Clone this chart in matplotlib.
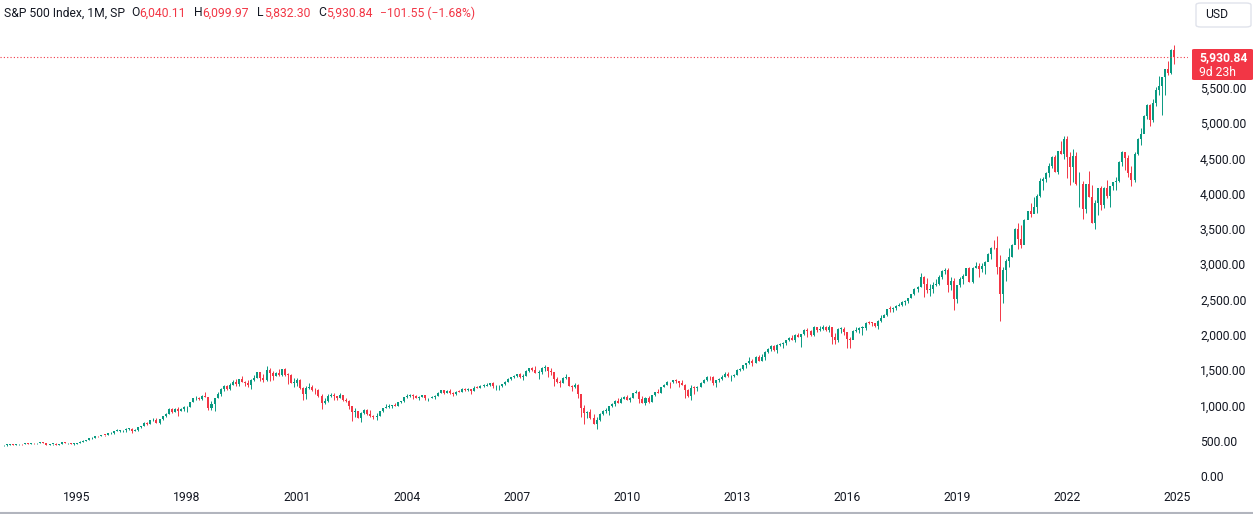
import matplotlib
matplotlib.use("Agg")
import matplotlib.pyplot as plt
from matplotlib.patches import FancyBboxPatch
from matplotlib.ticker import FuncFormatter
import numpy as np

# S&P 500 monthly candles, Jan 1993 .. Dec 2024 (one row per year)
start_year = 1993
first_open = 435.71
last_open = 6040.11

closes = [
    438.78, 443.38, 451.67, 440.19, 450.19, 450.53, 448.13, 463.56, 458.93, 467.83, 461.79, 466.45,  # 1993
    481.61, 467.14, 445.77, 450.91, 456.50, 444.27, 458.26, 475.49, 462.69, 472.35, 453.69, 459.27,  # 1994
    470.42, 487.39, 500.71, 514.71, 533.40, 544.75, 562.06, 561.88, 584.41, 581.50, 605.37, 615.93,  # 1995
    636.02, 640.43, 645.50, 654.17, 669.12, 670.63, 639.95, 651.99, 687.31, 705.27, 757.02, 740.74,  # 1996
    786.16, 790.82, 757.12, 801.34, 848.28, 885.14, 954.31, 899.47, 947.28, 914.62, 955.40, 970.43,  # 1997
    980.28, 1049.34, 1101.75, 1111.75, 1090.82, 1133.84, 1120.67, 957.28, 1017.01, 1098.67, 1163.63, 1229.23,  # 1998
    1279.64, 1238.33, 1286.37, 1335.18, 1301.84, 1372.71, 1328.72, 1320.41, 1282.71, 1362.93, 1388.91, 1469.25,  # 1999
    1394.46, 1366.42, 1498.58, 1452.43, 1420.60, 1454.60, 1430.83, 1517.68, 1436.51, 1429.40, 1314.95, 1320.28,  # 2000
    1366.01, 1239.94, 1160.33, 1249.46, 1255.82, 1224.42, 1211.23, 1133.58, 1040.94, 1059.78, 1139.45, 1148.08,  # 2001
    1130.20, 1106.73, 1147.39, 1076.92, 1067.14, 989.82, 911.62, 916.07, 815.28, 885.76, 936.31, 879.82,  # 2002
    855.70, 841.15, 848.18, 916.92, 963.59, 974.50, 990.31, 1008.01, 995.97, 1050.71, 1058.20, 1111.92,  # 2003
    1131.13, 1144.94, 1126.21, 1107.30, 1120.68, 1140.84, 1101.72, 1104.24, 1114.58, 1130.20, 1173.82, 1211.92,  # 2004
    1181.27, 1203.60, 1180.59, 1156.85, 1191.50, 1191.33, 1234.18, 1220.33, 1228.81, 1207.01, 1249.48, 1248.29,  # 2005
    1280.08, 1280.66, 1294.83, 1310.61, 1270.09, 1270.20, 1276.66, 1303.82, 1335.85, 1377.94, 1400.63, 1418.30,  # 2006
    1438.24, 1406.82, 1420.86, 1482.37, 1530.62, 1503.35, 1455.27, 1473.99, 1526.75, 1549.38, 1481.14, 1468.36,  # 2007
    1378.55, 1330.63, 1322.70, 1385.59, 1400.38, 1280.00, 1267.38, 1282.83, 1166.36, 968.75, 896.24, 903.25,  # 2008
    825.88, 735.09, 797.87, 872.81, 919.14, 919.32, 987.48, 1020.62, 1057.08, 1036.19, 1095.63, 1115.10,  # 2009
    1073.87, 1104.49, 1169.43, 1186.69, 1089.41, 1030.71, 1101.60, 1049.33, 1141.20, 1183.26, 1180.55, 1257.64,  # 2010
    1286.12, 1327.22, 1325.83, 1363.61, 1345.20, 1320.64, 1292.28, 1218.89, 1131.42, 1253.30, 1246.96, 1257.60,  # 2011
    1312.41, 1365.68, 1408.47, 1397.91, 1310.33, 1362.16, 1379.32, 1406.58, 1440.67, 1412.16, 1416.18, 1426.19,  # 2012
    1498.11, 1514.68, 1569.19, 1597.57, 1630.74, 1606.28, 1685.73, 1632.97, 1681.55, 1756.54, 1805.81, 1848.36,  # 2013
    1782.59, 1859.45, 1872.34, 1883.95, 1923.57, 1960.23, 1930.67, 2003.37, 1972.29, 2018.05, 2067.56, 2058.90,  # 2014
    1994.99, 2104.50, 2067.89, 2085.51, 2107.39, 2063.11, 2103.84, 1972.18, 1920.03, 2079.36, 2080.41, 2043.94,  # 2015
    1940.24, 1932.23, 2059.74, 2065.30, 2096.95, 2098.86, 2173.60, 2170.95, 2168.27, 2126.15, 2198.81, 2238.83,  # 2016
    2278.87, 2363.64, 2362.72, 2384.20, 2411.80, 2423.41, 2470.30, 2471.65, 2519.36, 2575.26, 2647.58, 2673.61,  # 2017
    2823.81, 2713.83, 2640.87, 2648.05, 2705.27, 2718.37, 2816.29, 2901.52, 2913.98, 2711.74, 2760.17, 2506.85,  # 2018
    2704.10, 2784.49, 2834.40, 2945.83, 2752.06, 2941.76, 2980.38, 2926.46, 2976.74, 3037.56, 3140.98, 3230.78,  # 2019
    3225.52, 2954.22, 2584.59, 2912.43, 3044.31, 3100.29, 3271.12, 3500.31, 3363.00, 3269.96, 3621.63, 3756.07,  # 2020
    3714.24, 3811.15, 3972.89, 4181.17, 4204.11, 4297.50, 4395.26, 4522.68, 4307.54, 4605.38, 4567.00, 4766.18,  # 2021
    4515.55, 4373.94, 4530.41, 4131.93, 4132.15, 3785.38, 4130.29, 3955.00, 3585.62, 3871.98, 4080.11, 3839.50,  # 2022
    4076.60, 3970.15, 4109.31, 4169.48, 4179.83, 4450.38, 4588.96, 4507.66, 4288.05, 4193.80, 4567.80, 4769.83,  # 2023
    4845.65, 5096.27, 5254.35, 5035.69, 5277.51, 5460.48, 5522.30, 5648.40, 5762.48, 5705.45, 6032.38, 5930.84,  # 2024
]

highs = [
    442.52, 450.06, 456.88, 448.64, 453.52, 453.85, 451.15, 464.34, 463.79, 470.36, 469.58, 471.29,  # 1993
    482.85, 482.23, 471.09, 452.79, 458.61, 462.12, 459.30, 476.07, 476.63, 473.77, 473.52, 463.35,  # 1994
    472.79, 489.19, 507.01, 515.22, 534.82, 552.07, 563.84, 565.25, 586.20, 587.41, 608.55, 622.88,  # 1995
    636.18, 664.23, 656.97, 656.67, 678.51, 673.31, 673.25, 670.68, 690.88, 708.10, 762.33, 761.75,  # 1996
    794.67, 817.68, 814.90, 804.13, 851.87, 898.70, 957.73, 961.63, 960.46, 983.12, 963.07, 986.25,  # 1997
    992.65, 1050.02, 1105.65, 1130.52, 1123.01, 1141.32, 1190.58, 1121.04, 1066.11, 1102.57, 1193.19, 1244.93,  # 1998
    1283.09, 1283.60, 1316.55, 1362.80, 1375.98, 1372.93, 1420.33, 1344.85, 1361.41, 1373.17, 1427.66, 1473.10,  # 1999
    1478.00, 1444.55, 1552.87, 1527.19, 1481.51, 1474.64, 1517.32, 1520.77, 1530.09, 1454.82, 1438.46, 1389.06,  # 2000
    1383.37, 1376.38, 1267.42, 1269.30, 1315.93, 1286.62, 1239.78, 1226.27, 1155.40, 1110.61, 1163.38, 1173.62,  # 2001
    1176.55, 1130.20, 1173.94, 1147.84, 1106.59, 1070.66, 994.46, 965.00, 924.02, 900.96, 951.57, 954.28,  # 2002
    935.05, 864.64, 895.90, 924.24, 965.38, 1015.33, 1015.41, 1011.01, 1040.29, 1053.79, 1063.65, 1112.56,  # 2003
    1155.38, 1158.98, 1163.23, 1150.57, 1127.74, 1146.34, 1140.84, 1109.68, 1131.54, 1142.05, 1188.46, 1217.33,  # 2004
    1217.80, 1212.44, 1229.11, 1191.88, 1199.56, 1219.59, 1245.15, 1245.86, 1243.13, 1233.34, 1270.64, 1275.80,  # 2005
    1294.90, 1297.57, 1310.88, 1318.16, 1326.70, 1290.68, 1283.42, 1306.74, 1340.28, 1389.45, 1407.89, 1431.81,  # 2006
    1441.61, 1461.57, 1438.89, 1498.02, 1535.56, 1540.56, 1555.90, 1503.89, 1538.74, 1576.09, 1545.79, 1523.57,  # 2007
    1471.77, 1396.02, 1359.68, 1404.57, 1440.24, 1404.05, 1292.17, 1313.15, 1303.04, 1167.03, 1007.51, 918.85,  # 2008
    943.85, 875.01, 832.98, 888.70, 930.17, 956.23, 996.68, 1039.47, 1080.15, 1101.36, 1113.69, 1130.38,  # 2009
    1150.45, 1112.42, 1180.16, 1219.80, 1205.13, 1131.23, 1120.95, 1129.24, 1148.90, 1196.14, 1227.08, 1262.60,  # 2010
    1302.67, 1344.07, 1332.28, 1366.60, 1370.58, 1345.20, 1356.48, 1307.38, 1230.71, 1292.66, 1277.55, 1269.37,  # 2011
    1333.47, 1378.04, 1419.15, 1422.38, 1415.32, 1363.46, 1391.74, 1426.68, 1474.51, 1470.96, 1434.27, 1448.00,  # 2012
    1509.94, 1530.94, 1570.28, 1597.57, 1687.18, 1654.19, 1698.78, 1709.67, 1729.86, 1775.22, 1813.55, 1849.44,  # 2013
    1850.84, 1867.92, 1883.97, 1897.28, 1924.03, 1968.17, 1991.39, 2005.04, 2019.26, 2018.19, 2075.76, 2093.55,  # 2014
    2064.43, 2119.59, 2117.52, 2125.92, 2134.72, 2129.87, 2132.82, 2112.66, 2020.86, 2094.32, 2116.48, 2104.27,  # 2015
    2038.20, 1962.96, 2072.21, 2111.05, 2103.48, 2120.55, 2177.09, 2193.81, 2187.87, 2169.60, 2214.10, 2277.53,  # 2016
    2300.99, 2371.54, 2400.98, 2398.16, 2418.71, 2453.82, 2484.04, 2490.87, 2519.44, 2582.98, 2657.74, 2694.97,  # 2017
    2872.87, 2835.96, 2801.90, 2717.49, 2742.24, 2791.47, 2848.03, 2916.50, 2940.91, 2939.86, 2815.15, 2800.18,  # 2018
    2708.95, 2813.49, 2860.31, 2949.52, 2954.13, 2964.15, 3027.98, 3013.59, 3021.99, 3050.10, 3154.26, 3247.93,  # 2019
    3337.77, 3393.52, 3136.72, 2954.86, 3068.67, 3233.13, 3279.99, 3514.77, 3588.11, 3549.85, 3645.99, 3760.20,  # 2020
    3870.90, 3950.43, 3994.41, 4218.78, 4238.04, 4302.43, 4429.97, 4537.36, 4545.85, 4608.08, 4743.83, 4808.93,  # 2021
    4818.62, 4595.31, 4637.30, 4593.45, 4307.66, 4177.51, 4140.15, 4325.28, 4119.28, 3905.42, 4080.11, 4100.96,  # 2022
    4094.21, 4195.44, 4110.75, 4170.06, 4231.10, 4458.48, 4607.07, 4584.62, 4541.25, 4393.57, 4587.64, 4793.30,  # 2023
    4931.09, 5111.06, 5264.85, 5263.95, 5341.88, 5505.53, 5669.67, 5651.62, 5767.37, 5878.46, 6044.17, 6099.97,  # 2024
]

lows = [
    426.88, 429.05, 440.87, 433.54, 436.86, 441.82, 445.35, 447.08, 449.55, 455.66, 454.36, 460.33,  # 1993
    464.54, 464.26, 436.16, 435.86, 442.24, 441.37, 443.09, 456.67, 461.46, 460.20, 449.05, 445.27,  # 1994
    457.16, 469.29, 483.00, 499.11, 513.09, 529.45, 543.43, 553.05, 561.29, 573.59, 579.74, 601.71,  # 1995
    596.77, 632.78, 627.63, 630.07, 630.07, 658.20, 605.88, 639.11, 643.39, 681.39, 702.29, 716.69,  # 1996
    737.01, 773.43, 756.13, 733.54, 793.21, 836.33, 879.10, 897.62, 899.47, 855.27, 914.62, 924.92,  # 1997
    912.83, 980.28, 1047.70, 1076.70, 1074.39, 1074.63, 1112.44, 939.98, 939.71, 923.32, 1098.67, 1136.89,  # 1998
    1205.46, 1211.99, 1223.18, 1282.08, 1277.31, 1281.41, 1328.72, 1268.68, 1263.35, 1233.70, 1348.14, 1387.38,  # 1999
    1350.14, 1325.07, 1346.62, 1339.40, 1361.09, 1416.17, 1413.89, 1423.43, 1419.44, 1305.79, 1311.30, 1254.07,  # 2000
    1274.62, 1228.00, 1081.19, 1091.99, 1232.00, 1203.03, 1165.54, 1124.87, 944.75, 1026.76, 1054.31, 1114.51,  # 2001
    1081.66, 1074.36, 1106.73, 1063.46, 1048.96, 952.92, 775.68, 833.44, 815.28, 768.63, 872.05, 869.45,  # 2002
    840.34, 806.29, 788.90, 847.85, 902.83, 963.59, 962.10, 960.84, 990.36, 995.97, 1031.20, 1053.41,  # 2003
    1105.08, 1124.44, 1087.16, 1105.72, 1076.32, 1113.32, 1078.78, 1060.72, 1098.63, 1090.19, 1127.60, 1173.76,  # 2004
    1163.75, 1180.95, 1163.69, 1136.15, 1146.18, 1188.30, 1183.55, 1201.07, 1205.35, 1168.20, 1201.07, 1246.59,  # 2005
    1245.74, 1253.61, 1268.42, 1280.74, 1245.34, 1219.29, 1224.54, 1261.30, 1290.93, 1327.10, 1360.98, 1385.93,  # 2006
    1403.97, 1389.42, 1363.98, 1416.37, 1476.70, 1484.18, 1454.25, 1370.60, 1439.29, 1489.56, 1406.10, 1435.65,  # 2007
    1270.05, 1316.75, 1256.98, 1324.35, 1373.07, 1272.00, 1200.44, 1247.45, 1106.42, 839.80, 741.02, 815.69,  # 2008
    804.47, 734.52, 666.79, 783.32, 866.10, 888.86, 869.32, 978.51, 991.97, 1029.38, 1029.38, 1085.89,  # 2009
    1071.59, 1044.50, 1105.36, 1170.69, 1040.78, 1028.33, 1010.91, 1039.70, 1048.92, 1131.87, 1173.00, 1173.80,  # 2010
    1256.14, 1282.86, 1249.05, 1312.67, 1311.80, 1258.07, 1282.86, 1101.54, 1114.22, 1074.77, 1158.66, 1202.37,  # 2011
    1258.86, 1312.41, 1340.03, 1357.38, 1291.98, 1266.74, 1325.41, 1354.65, 1396.56, 1403.28, 1343.35, 1398.11,  # 2012
    1426.19, 1485.01, 1501.48, 1536.03, 1581.28, 1560.33, 1604.57, 1627.47, 1633.41, 1646.47, 1746.20, 1767.99,  # 2013
    1770.45, 1737.92, 1834.44, 1814.36, 1859.79, 1915.98, 1930.67, 1904.78, 1964.04, 1820.66, 2001.01, 1972.56,  # 2014
    1988.44, 1980.90, 2039.69, 2048.38, 2067.93, 2056.32, 2044.02, 1867.01, 1871.91, 1893.70, 2019.39, 1993.26,  # 2015
    1812.29, 1810.10, 1937.09, 2033.80, 2025.91, 1991.68, 2074.02, 2147.58, 2119.12, 2114.72, 2083.79, 2187.44,  # 2016
    2245.13, 2271.65, 2322.25, 2328.95, 2352.72, 2405.70, 2407.70, 2417.35, 2446.55, 2520.40, 2557.45, 2605.52,  # 2017
    2682.36, 2532.69, 2585.89, 2553.80, 2594.62, 2691.99, 2698.95, 2796.34, 2864.12, 2603.54, 2631.09, 2346.58,  # 2018
    2443.96, 2681.83, 2722.27, 2848.63, 2750.52, 2728.81, 2952.22, 2822.12, 2891.85, 2855.94, 3050.72, 3070.33,  # 2019
    3214.64, 2855.84, 2191.86, 2447.49, 2766.64, 2965.66, 3101.17, 3284.53, 3209.45, 3233.94, 3279.74, 3633.40,  # 2020
    3662.71, 3725.62, 3723.34, 3955.31, 4056.88, 4164.40, 4233.13, 4367.73, 4305.91, 4278.94, 4560.00, 4495.12,  # 2021
    4222.62, 4114.65, 4157.87, 4124.28, 3810.32, 3636.87, 3721.56, 3954.53, 3584.13, 3491.58, 3698.15, 3764.49,  # 2022
    3794.33, 3943.08, 3808.86, 4048.28, 4048.28, 4166.15, 4385.05, 4335.31, 4238.63, 4103.78, 4167.21, 4546.50,  # 2023
    4682.11, 4853.86, 5056.82, 4953.56, 5011.05, 5234.32, 5390.95, 5119.26, 5402.62, 5674.00, 5696.51, 5832.30,  # 2024
]

year_ticks = [1995, 1998, 2001, 2004, 2007, 2010, 2013, 2016, 2019, 2022, 2025]
price_ticks = list(range(0, 6001, 500))

title = "S&P 500 Index, 1M, SP"
change_text = "\u2212101.55 (\u22121.68%)"
countdown = "9d 23h"

UP = "#089981"
DOWN = "#f23645"
TEXT = "#131722"

plt.rcParams["font.family"] = ["Roboto", "DejaVu Sans"]

closes = np.array(closes)
highs = np.array(highs)
lows = np.array(lows)
opens = np.concatenate([[first_open], closes[:-1]])
opens[-1] = last_open
n = len(closes)
x = np.arange(n)
is_up = closes >= opens
colors = np.where(is_up, UP, DOWN)

W, H = 1253, 514
fig = plt.figure(figsize=(W / 100, H / 100), dpi=100)
ax = fig.add_axes([0, (H - 486) / H, 1188 / W, 486 / H])

ax.vlines(x, lows, highs, colors=colors, linewidth=0.7)
body_bottom = np.minimum(opens, closes)
body_h = np.maximum(np.abs(closes - opens), 10)
ax.bar(x, body_h, bottom=body_bottom, width=0.66, color=colors, linewidth=0)

# last price dotted line
ax.axhline(closes[-1], color=DOWN, linestyle=(0, (1, 2)), linewidth=0.8)

ax.set_xlim(-1.2, 387.5)
ax.set_ylim(-141.6, 6742)

ax.set_xticks([(y - start_year) * 12 for y in year_ticks])
ax.set_xticklabels([str(y) for y in year_ticks])
ax.yaxis.tick_right()
ax.set_yticks(price_ticks)
ax.yaxis.set_major_formatter(FuncFormatter(lambda v, p: f"{v:,.2f}"))
ax.tick_params(axis="both", length=0, labelsize=8.7, colors=TEXT)
ax.tick_params(axis="y", pad=8.6)
ax.tick_params(axis="x", pad=3.6)
for s in ax.spines.values():
    s.set_visible(False)

# header row
fig.canvas.draw()
renderer = fig.canvas.get_renderer()
pieces = [
    (title, TEXT, 6), ("O", TEXT, 0), (f"{opens[-1]:,.2f}", DOWN, 8),
    ("H", TEXT, 0), (f"{highs[-1]:,.2f}", DOWN, 8),
    ("L", TEXT, 0), (f"{lows[-1]:,.2f}", DOWN, 8),
    ("C", TEXT, 0), (f"{closes[-1]:,.2f}", DOWN, 8),
    (change_text, DOWN, 0),
]
px = 4
for txt, col, gap in pieces:
    t = fig.text(px / W, 1 - 13 / H, txt, color=col, fontsize=8.7, va="center", ha="left")
    bb = t.get_window_extent(renderer)
    px += bb.width + gap

# USD box
fig.patches.append(FancyBboxPatch((1196 / W, 1 - 27 / H), 55 / W, 24 / H,
                                  boxstyle="round,pad=0,rounding_size=0.004",
                                  transform=fig.transFigure, facecolor="white",
                                  edgecolor="#e0e3eb", linewidth=1))
fig.text(1205 / W, 1 - 14.5 / H, "USD", color=TEXT, fontsize=8.7, va="center", ha="left")

# last price label
fig.patches.append(FancyBboxPatch((1192 / W, 1 - 80 / H), 61 / W, 31 / H,
                                  boxstyle="round,pad=0,rounding_size=0.002",
                                  transform=fig.transFigure, facecolor=DOWN,
                                  edgecolor="none"))
fig.text(1199 / W, 1 - 58 / H, f"{closes[-1]:,.2f}", color="white", fontsize=8.7,
         fontweight="bold", va="center", ha="left")
fig.text(1199 / W, 1 - 72 / H, countdown, color="white", fontsize=8.7,
         va="center", ha="left")

# bottom border
fig.add_artist(plt.Line2D([0, 1], [1.5 / H, 1.5 / H], color="#b2b5be", linewidth=1.5,
                          transform=fig.transFigure))

fig.savefig("out.png", dpi=100)
